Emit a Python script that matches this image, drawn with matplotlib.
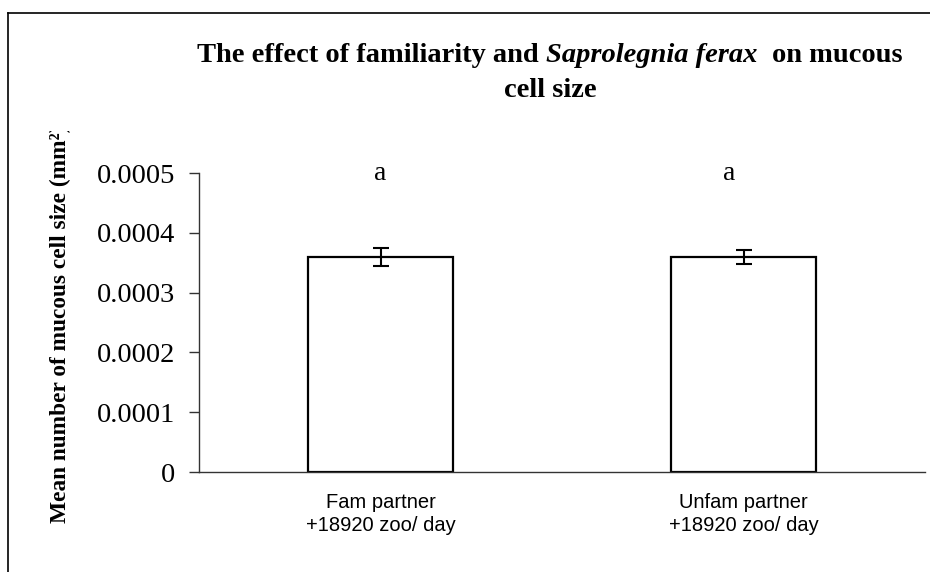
import matplotlib
matplotlib.use("Agg")
import matplotlib.pyplot as plt
from matplotlib.lines import Line2D
from matplotlib.transforms import Bbox

# data
categories = ["Fam partner\n+18920 zoo/ day", "Unfam partner\n+18920 zoo/ day"]
means = [0.00036, 0.00036]
errors = [0.000015, 0.000012]
letters = ["a", "a"]
yticks = [0, 0.0001, 0.0002, 0.0003, 0.0004, 0.0005]
ytick_labels = ["0", "0.0001", "0.0002", "0.0003", "0.0004", "0.0005"]
title_parts = [("The effect of familiarity and", "normal"),
               ("Saprolegnia ferax", "italic"),
               ("on mucous", "normal")]
title_line2 = "cell size"

W, H = 930, 572
fig = plt.figure(figsize=(W / 100, H / 100), dpi=100)
ax = fig.add_axes([199 / W, 1 - 472 / H, (925 - 199) / W, (472 - 173) / H])

x = range(len(categories))
ax.bar(x, means, width=0.40, color="white", edgecolor="black", linewidth=1.6, zorder=2)
ax.errorbar(x, means, yerr=errors, fmt="none", ecolor="black", elinewidth=1.5,
            capsize=5.8, capthick=1.5, zorder=3)

letter_shift = [0.0, -0.04]
for i, (letter, dx) in enumerate(zip(letters, letter_shift)):
    ax.text(i + dx, 0.0005, letter, ha="center", va="center",
            family="Liberation Serif", fontsize=20)

ax.set_xlim(-0.5, 1.5)
ax.set_ylim(0, 0.0005)
ax.set_yticks(yticks)
ax.set_yticklabels(ytick_labels, family="Liberation Serif", fontsize=20.5)
ax.set_xticks(list(x))
ax.set_xticklabels(categories, family="Liberation Sans", fontsize=14.5, linespacing=1.25)
ax.tick_params(axis="y", length=7, width=1, direction="out", pad=10, colors="#333333",
               labelcolor="black")
ax.tick_params(axis="x", length=0, pad=15)
for side in ("top", "right"):
    ax.spines[side].set_visible(False)
for side in ("left", "bottom"):
    ax.spines[side].set_color("#333333")
    ax.spines[side].set_linewidth(1.0)

# y label, clipped at the top like the original
ylab = fig.text(60 / W, 1 - 523 / H, "Mean number of mucous cell size (mm²)",
                rotation=90, ha="center", va="bottom", family="Liberation Serif",
                fontweight="bold", fontsize=16.8)
ylab.set_clip_box(Bbox.from_extents(0, 0, W, H - 131))
ylab.set_clip_on(True)

# title: bold serif with the species name in italics, laid out piece by piece
title_font = dict(family="Liberation Serif", fontweight="bold", fontsize=20.5)
renderer = fig.canvas.get_renderer()
pieces = [fig.text(0, 1 - 62 / H, s, va="baseline", ha="left", style=st, **title_font)
          for s, st in title_parts]
widths = [p.get_window_extent(renderer).width for p in pieces]
probe = fig.text(0, 0, "a a", **title_font)
probe2 = fig.text(0, 0, "aa", **title_font)
space = probe.get_window_extent(renderer).width - probe2.get_window_extent(renderer).width
probe.remove()
probe2.remove()
gaps = [space, 2 * space]
total = sum(widths) + sum(gaps)
left = 550 - total / 2
for p, w, g in zip(pieces, widths, gaps + [0]):
    p.set_x(left / W)
    left += w + g
fig.text(550 / W, 1 - 97 / H, title_line2, ha="center", va="baseline", **title_font)

# outer frame of the chart area
fig.add_artist(Line2D([8 / W, 1], [1 - 13 / H, 1 - 13 / H], color="black", linewidth=1.2))
fig.add_artist(Line2D([8 / W, 8 / W], [0, 1 - 13 / H], color="black", linewidth=1.2))

fig.savefig("out.png", dpi=100)
